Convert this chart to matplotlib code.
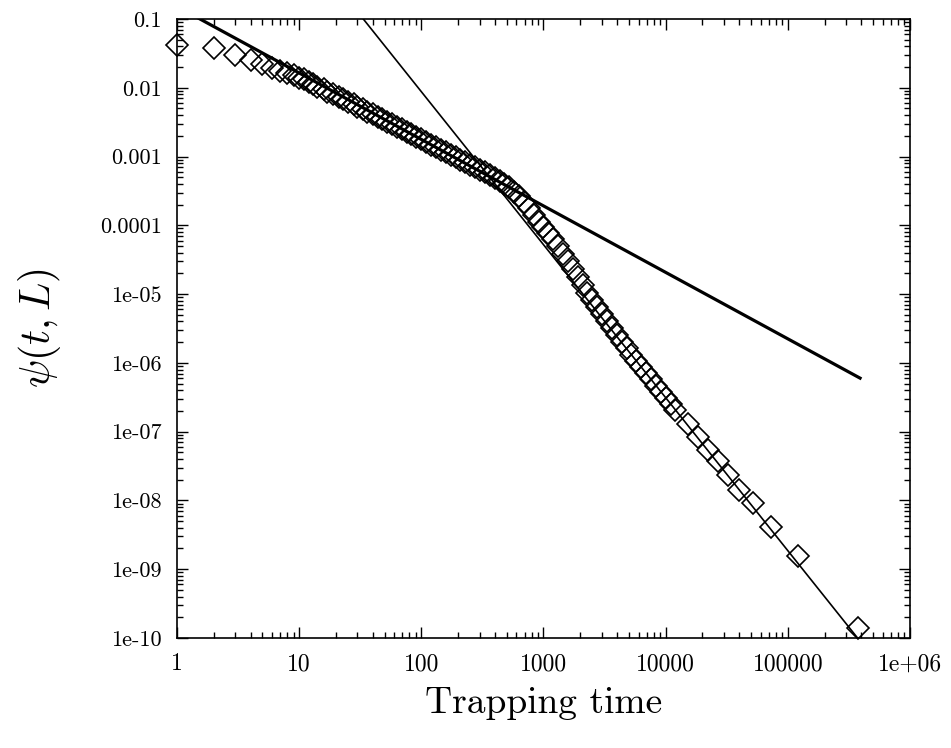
import matplotlib
matplotlib.use("Agg")
import matplotlib.pyplot as plt
import numpy as np

plt.rcParams['font.family'] = ['cmr10', 'DejaVu Serif']
plt.rcParams['mathtext.fontset'] = 'cm'
plt.rcParams['axes.formatter.use_mathtext'] = True

# trapping times
t = [1, 2, 3, 4, 5, 6, 7, 8, 9, 10,
     11, 12, 13, 14, 16, 17, 19, 21, 23, 25, 28, 30, 33, 36, 40, 44, 48, 52, 58, 63,
     69, 76, 83, 91, 100, 110, 120, 132, 145, 158, 174, 191, 209, 229, 251, 275, 302,
     331, 363, 398, 437, 479, 525, 575, 631, 692, 759, 832, 912, 1000, 1096, 1202,
     1318, 1445, 1585, 1738, 1905, 2089, 2291, 2512, 2754, 3020, 3311, 3631, 3981,
     4365, 4786, 5248, 5754, 6310, 6918, 7586, 8318, 9120, 10000, 10965, 12023,
     15140, 18280, 22080, 26670, 32210, 39630, 51640, 72610, 120800, 375000]

# psi(t, L)
psi = [4.2e-2, 3.8e-2, 3.0e-2, 2.5e-2, 2.2e-2, 1.95e-2, 1.78e-2, 1.62e-2, 1.51e-2, 1.41e-2,
       1.324e-2, 1.219e-2, 1.122e-2, 1.033e-2, 9.48e-3, 8.73e-3, 8.04e-3, 7.40e-3, 6.81e-3,
       6.27e-3, 5.77e-3, 5.31e-3, 4.89e-3, 4.50e-3, 4.13e-3, 3.80e-3, 3.50e-3, 3.22e-3,
       2.96e-3, 2.73e-3, 2.50e-3, 2.30e-3, 2.10e-3, 1.93e-3, 1.77e-3, 1.62e-3, 1.49e-3,
       1.36e-3, 1.25e-3, 1.15e-3, 1.06e-3, 9.73e-4, 8.95e-4, 8.26e-4, 7.59e-4, 6.98e-4,
       6.44e-4, 5.87e-4, 5.33e-4, 4.83e-4, 4.38e-4, 3.97e-4, 3.55e-4, 3.09e-4, 2.63e-4,
       2.19e-4, 1.78e-4, 1.41e-4, 1.12e-4, 9.55e-5, 7.76e-5, 6.31e-5, 5.01e-5, 3.89e-5,
       3.02e-5, 2.34e-5, 1.78e-5, 1.35e-5, 1.05e-5, 8.13e-6, 6.46e-6, 5.13e-6, 4.07e-6,
       3.24e-6, 2.57e-6, 2.04e-6, 1.62e-6, 1.32e-6, 1.07e-6, 8.71e-7, 7.08e-7, 5.75e-7,
       4.68e-7, 3.80e-7, 3.09e-7, 2.51e-7, 2.04e-7,
       1.29e-7, 8.32e-8, 5.50e-8, 3.72e-8, 2.36e-8, 1.43e-8, 9.23e-9, 4.13e-9, 1.57e-9,
       1.41e-10]

# fitted power laws: endpoints of each straight line
fit_short_t = [1.0, 3.9e5]
fit_short_psi = [0.152, 6.0e-7]
fit_long_t = [33.5, 3.9e5]
fit_long_psi = [0.1, 9.0e-11]

xticks = [1, 10, 100, 1000, 10000, 100000, 1e6]
xticklabels = ['1', '10', '100', '1000', '10000', '100000', '1e+06']
yticks = [1e-1, 1e-2, 1e-3, 1e-4, 1e-5, 1e-6, 1e-7, 1e-8, 1e-9, 1e-10]
yticklabels = ['0.1', '0.01', '0.001', '0.0001', '1e-05', '1e-06', '1e-07',
               '1e-08', '1e-09', '1e-10']

fig = plt.figure(figsize=(9.51, 7.48), dpi=100)
ax = fig.add_axes([0.1861, 0.1471, 0.7708, 0.8275])

ax.plot(fit_short_t, fit_short_psi, color='black', lw=2.3, zorder=3)
ax.plot(fit_long_t, fit_long_psi, color='black', lw=1.2, zorder=3)
ax.plot(t, psi, linestyle='none', marker='D', ms=11, mfc='none', mec='black',
        mew=1.2, zorder=4, clip_on=False)

ax.set_xscale('log')
ax.set_yscale('log')
ax.set_xlim(1, 1e6)
ax.set_ylim(1e-10, 0.1)

ax.set_xticks(xticks)
ax.set_xticklabels(xticklabels)
ax.set_yticks(yticks)
ax.set_yticklabels(yticklabels)
ax.xaxis.set_minor_locator(matplotlib.ticker.LogLocator(base=10, subs=np.arange(2, 10), numticks=20))
ax.yaxis.set_minor_locator(matplotlib.ticker.LogLocator(base=10, subs=np.arange(2, 10), numticks=20))
ax.xaxis.set_minor_formatter(matplotlib.ticker.NullFormatter())
ax.yaxis.set_minor_formatter(matplotlib.ticker.NullFormatter())

ax.tick_params(which='both', direction='in', top=True, right=True, width=1.0)
ax.tick_params(which='major', length=8)
ax.tick_params(which='minor', length=4)
ax.tick_params(axis='x', which='major', labelsize=17, pad=11)
ax.tick_params(axis='y', which='major', labelsize=16, pad=11)
for s in ax.spines.values():
    s.set_linewidth(1.2)

ax.set_xlabel('Trapping time', fontsize=27, va='center')
ax.xaxis.set_label_coords(0.5, -0.105)
ax.set_ylabel(r'$\psi(t,L)$', fontsize=30, va='center')
ax.yaxis.set_label_coords(-0.187, 0.5)

fig.savefig('out.png', dpi=100)
